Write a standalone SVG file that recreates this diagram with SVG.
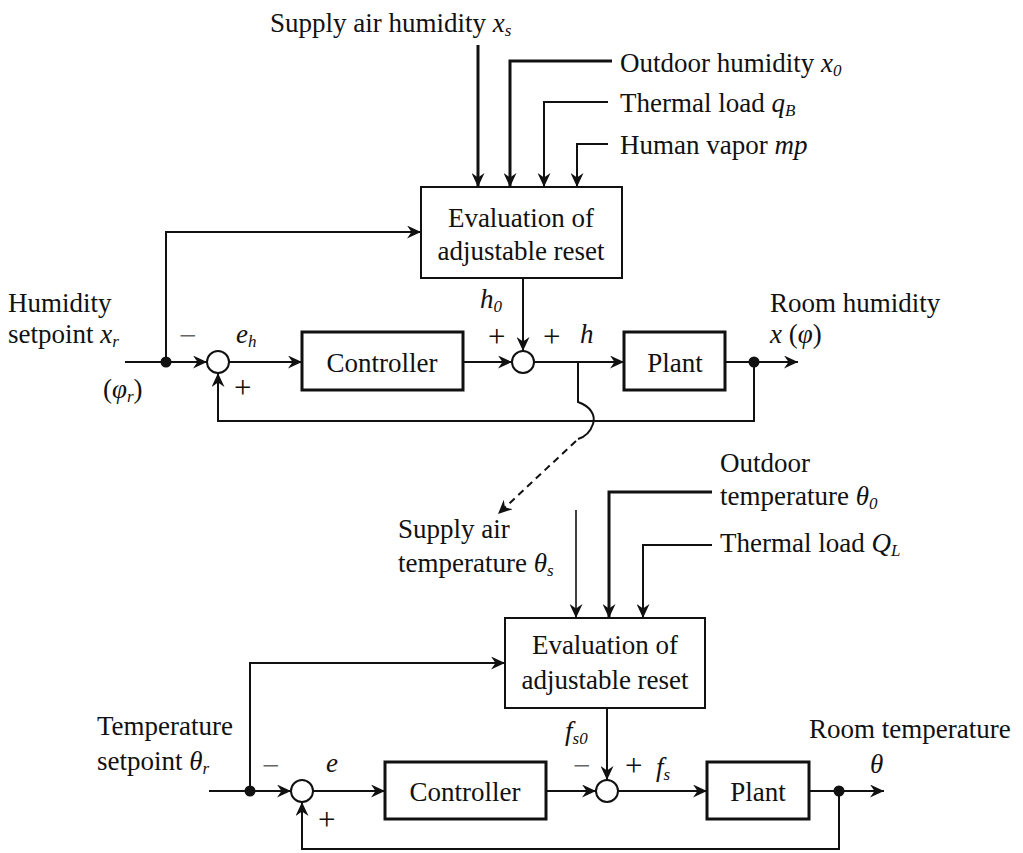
<svg xmlns="http://www.w3.org/2000/svg" width="1023" height="853" viewBox="0 0 1023 853">
<defs>
<style>
text{font-family:"Liberation Serif","Times New Roman",serif;font-size:27px;fill:#111}
.i{font-style:italic}
.sub{font-size:17px;font-style:italic}
.ln{fill:none;stroke:#111;stroke-width:2}
.th{stroke-width:3}
.tn{stroke-width:1.6}
.box{fill:#fff;stroke:#111;stroke-width:2}
.bk{stroke-width:3}
.sum{fill:#fff;stroke:#111;stroke-width:2}
.dot{fill:#111}
.sg{font-size:31px}
.mn{fill:#666}
.mid{text-anchor:middle}
</style>
<marker id="arr" markerUnits="userSpaceOnUse" markerWidth="15" markerHeight="13" refX="14" refY="6.5" orient="auto">
<path d="M0,0 L14,6.5 L0,13 L4.5,6.5 z" fill="#111"/>
</marker>
</defs>
<g id="connectors">
<path class="ln th" d="M478,45 V187" marker-end="url(#arr)"/>
<path class="ln th" d="M612,61 H510 V187" marker-end="url(#arr)"/>
<path class="ln" d="M608,102 H544 V187" marker-end="url(#arr)"/>
<path class="ln" d="M608,144 H577 V187" marker-end="url(#arr)"/>
<path class="ln" d="M125,362 H207" marker-end="url(#arr)"/>
<path class="ln" d="M166,362 V232 H421" marker-end="url(#arr)"/>
<path class="ln" d="M229,362 H302" marker-end="url(#arr)"/>
<path class="ln" d="M463,362 H512" marker-end="url(#arr)"/>
<path class="ln" d="M523,278 V351" marker-end="url(#arr)"/>
<path class="ln" d="M534,362 H624" marker-end="url(#arr)"/>
<path class="ln" d="M725,362 H798" marker-end="url(#arr)"/>
<path class="ln" d="M754,362 V421 H218 V373" marker-end="url(#arr)"/>
<path class="ln" d="M578,362 V402 C590,406 596,415 593,424 C590,433 585,437 578,439"/>
<path class="ln" d="M576,441 L498,514" stroke-dasharray="7,5" marker-end="url(#arr)"/>
<path class="ln tn" d="M576,510 V618" marker-end="url(#arr)"/>
<path class="ln th" d="M712,492 H609 V618" marker-end="url(#arr)"/>
<path class="ln" d="M712,545 H643 V618" marker-end="url(#arr)"/>
<path class="ln" d="M209,791 H291" marker-end="url(#arr)"/>
<path class="ln" d="M250,791 V663 H505" marker-end="url(#arr)"/>
<path class="ln" d="M313,791 H385" marker-end="url(#arr)"/>
<path class="ln" d="M546,791 H596" marker-end="url(#arr)"/>
<path class="ln" d="M607,708 V780" marker-end="url(#arr)"/>
<path class="ln" d="M618,791 H707" marker-end="url(#arr)"/>
<path class="ln" d="M809,791 H884" marker-end="url(#arr)"/>
<path class="ln" d="M839,791 V849 H302 V802" marker-end="url(#arr)"/>
</g>
<g id="eval1">
<rect class="box" x="421" y="187" width="201" height="91"/>
<text class="mid" x="521" y="227">Evaluation of</text>
<text class="mid" x="521" y="260">adjustable reset</text>
</g>
<g id="sum1"><circle class="sum" cx="218" cy="362" r="11"/></g>
<g id="controller1">
<rect class="box bk" x="302" y="332" width="161" height="58"/>
<text class="mid" x="382" y="372">Controller</text>
</g>
<g id="sum2"><circle class="sum" cx="523" cy="362" r="11"/></g>
<g id="plant1">
<rect class="box bk" x="624" y="332" width="101" height="58"/>
<text class="mid" x="675" y="372">Plant</text>
</g>
<g id="dots1">
<circle class="dot" cx="166" cy="362" r="5.5"/>
<circle class="dot" cx="754" cy="362" r="5.5"/>
</g>
<g id="eval2">
<rect class="box" x="505" y="618" width="200" height="90"/>
<text class="mid" x="605" y="654">Evaluation of</text>
<text class="mid" x="605" y="689">adjustable reset</text>
</g>
<g id="sum3"><circle class="sum" cx="302" cy="791" r="11"/></g>
<g id="controller2">
<rect class="box bk" x="385" y="762" width="161" height="57"/>
<text class="mid" x="465" y="801">Controller</text>
</g>
<g id="sum4"><circle class="sum" cx="607" cy="791" r="11"/></g>
<g id="plant2">
<rect class="box bk" x="707" y="762" width="102" height="57"/>
<text class="mid" x="758" y="801">Plant</text>
</g>
<g id="dots2">
<circle class="dot" cx="250" cy="791" r="5.5"/>
<circle class="dot" cx="839" cy="791" r="5.5"/>
</g>
<g id="labels">
<text x="270" y="32">Supply air humidity <tspan class="i">x</tspan><tspan class="sub" dy="4">s</tspan></text>
<text x="620" y="72">Outdoor  humidity  <tspan class="i">x</tspan><tspan class="sub" dy="4">0</tspan></text>
<text x="620" y="112">Thermal load  <tspan class="i">q</tspan><tspan class="sub" dy="4">B</tspan></text>
<text x="620" y="154">Human vapor  <tspan class="i">mp</tspan></text>
<text x="8" y="312">Humidity</text>
<text x="8" y="343">setpoint  <tspan class="i">x</tspan><tspan class="sub" dy="4">r</tspan></text>
<text x="103" y="398">(<tspan class="i">φ</tspan><tspan class="sub" dy="4">r</tspan><tspan dy="-4">)</tspan></text>
<text class="sg mn" x="179" y="346">−</text>
<text class="i" x="236" y="343" font-size="24">e<tspan class="sub" dy="4">h</tspan></text>
<text class="sg" x="234" y="398">+</text>
<text class="i" x="480" y="308">h<tspan class="sub" dy="4">0</tspan></text>
<text class="sg" x="488" y="347">+</text>
<text class="sg" x="543" y="347">+</text>
<text class="i" x="580" y="343">h</text>
<text x="770" y="312">Room humidity</text>
<text x="770" y="343"><tspan class="i">x</tspan> (<tspan class="i">φ</tspan>)</text>
<text x="398" y="538">Supply air</text>
<text x="398" y="572">temperature  <tspan class="i">θ</tspan><tspan class="sub" dy="4">s</tspan></text>
<text x="720" y="472">Outdoor</text>
<text x="720" y="505">temperature  <tspan class="i">θ</tspan><tspan class="sub" dy="4">0</tspan></text>
<text x="720" y="552">Thermal load  <tspan class="i">Q</tspan><tspan class="sub" dy="4">L</tspan></text>
<text x="97" y="735">Temperature</text>
<text x="97" y="770">setpoint <tspan class="i">θ</tspan><tspan class="sub" dy="4">r</tspan></text>
<text class="sg mn" x="262" y="776">−</text>
<text class="i" x="326" y="772" font-size="24">e</text>
<text class="sg" x="318" y="830">+</text>
<text class="i" x="565" y="740">f<tspan class="sub" dy="4">s0</tspan></text>
<text class="sg mn" x="573" y="776">−</text>
<text class="sg" x="625" y="776">+</text>
<text class="i" x="656" y="776">f<tspan class="sub" dy="4">s</tspan></text>
<text x="809" y="738">Room temperature</text>
<text class="i" x="870" y="773">θ</text>
</g>
</svg>
